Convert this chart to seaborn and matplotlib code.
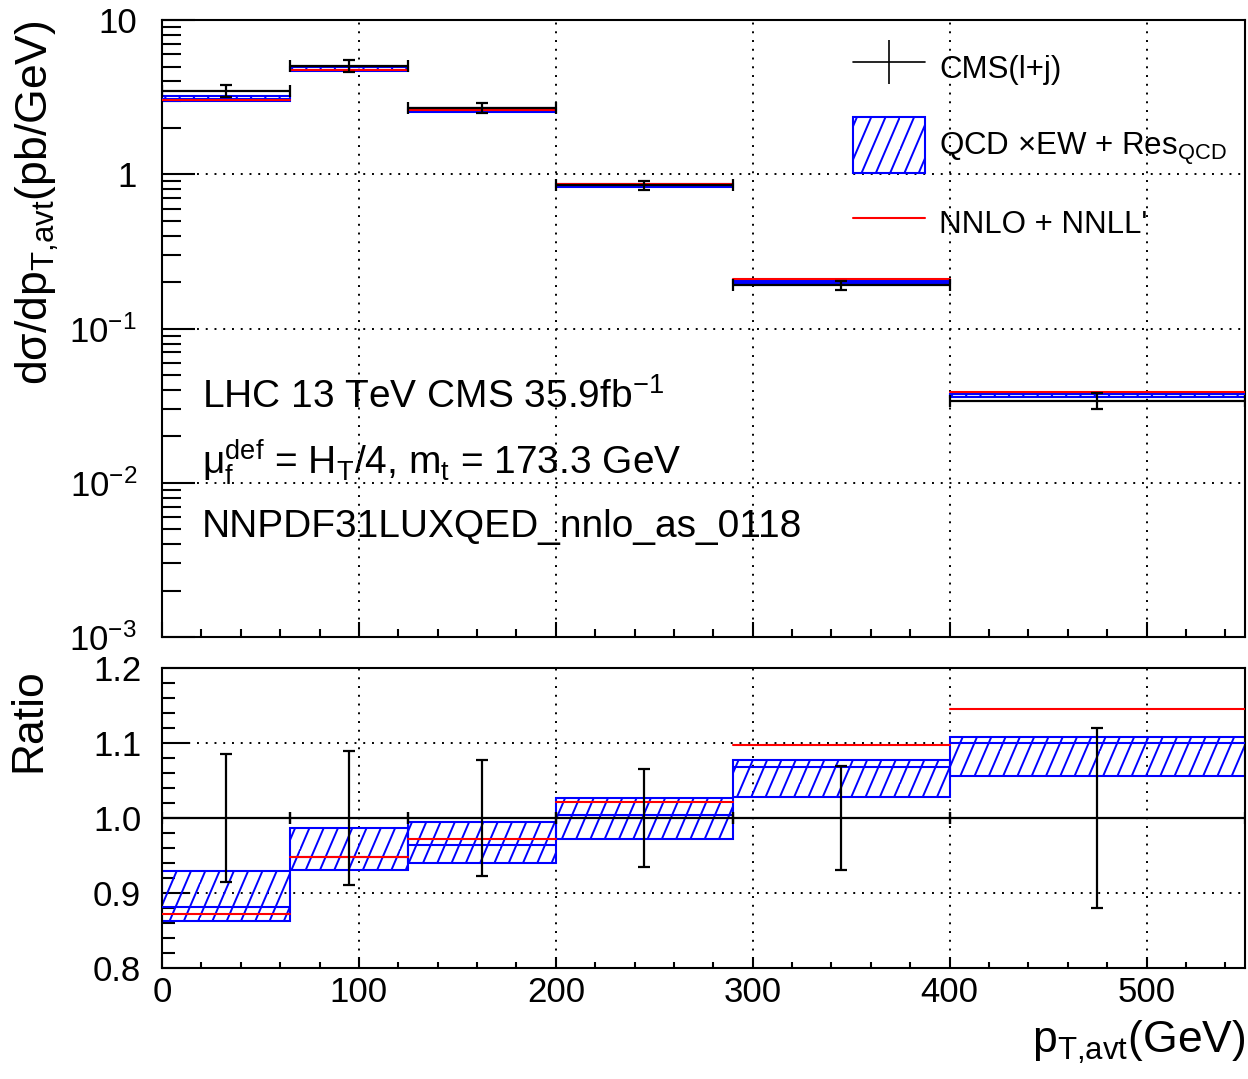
import numpy as np
import pandas as pd
import matplotlib
matplotlib.use('Agg')
import matplotlib.pyplot as plt
import matplotlib.hatch as mhatch
from matplotlib.path import Path
import seaborn as sns
from matplotlib.lines import Line2D
from matplotlib.patches import Patch, Rectangle
from matplotlib.legend_handler import HandlerPatch
from matplotlib.ticker import MultipleLocator, LogLocator, NullFormatter, FixedLocator

# ---------------- data ----------------
bin_edges = [0, 65, 125, 200, 290, 400, 550]
cms_values = [3.48, 5.03, 2.70, 0.849, 0.1916, 0.0341]
cms_errors = [0.296, 0.448, 0.208, 0.056, 0.0132, 0.0041]
qcdew_central = [3.069, 4.770, 2.603, 0.8528, 0.2046, 0.03749]
qcdew_up = [3.233, 4.963, 2.687, 0.8718, 0.2065, 0.03777]
qcdew_down = [3.002, 4.678, 2.538, 0.8252, 0.1970, 0.03601]
nnlo_nnll = [3.035, 4.768, 2.624, 0.8668, 0.2102, 0.03904]

legend_labels = ["CMS(l+j)", r"QCD $\mathregular{\times}$EW + Res$_{\mathregular{QCD}}$", "NNLO + NNLL'"]
top_yticks = [1e-3, 1e-2, 1e-1, 1, 10]
top_yticklabels = [r"$\mathregular{10^{-3}}$", r"$\mathregular{10^{-2}}$", r"$\mathregular{10^{-1}}$", "1", "10"]
ratio_yticks = [0.8, 0.9, 1.0, 1.1, 1.2]
ratio_yticklabels = ["0.8", "0.9", "1.0", "1.1", "1.2"]
x_ticks = [0, 100, 200, 300, 400, 500]
x_ticklabels = ["0", "100", "200", "300", "400", "500"]
info_lines = ["LHC 13 TeV CMS 35.9fb$^{\\mathregular{-1}}$",
              "μ$_{\\mathregular{f}}^{\\mathregular{def}}$ = H$_{\\mathregular{T}}$/4, m$_{\\mathregular{t}}$ = 173.3 GeV",
              "NNPDF31LUXQED_nnlo_as_0118"]


# ---------------- steeper ROOT-like hatch ----------------
try:
    class SteepHatch(mhatch.HatchPatternBase):
        def __init__(self, hatch, density):
            n = hatch.count('/') * 7
            verts = []
            shift = 3.0 / 7.0
            for k in range(n):
                c = (k + 0.5) / n
                x_end = c + shift
                if x_end <= 1.0:
                    verts += [(c, 0.0), (x_end, 1.0)]
                else:
                    yb = (1.0 - c) / shift
                    verts += [(c, 0.0), (1.0, yb), (0.0, yb), (x_end - 1.0, 1.0)]
            self._verts = np.array(verts, dtype=float) if verts else np.empty((0, 2))
            self.num_vertices = len(verts)

        def set_vertices_and_codes(self, vertices, codes):
            vertices[:] = self._verts
            codes[0::2] = Path.MOVETO
            codes[1::2] = Path.LINETO

    mhatch._hatch_types = [SteepHatch if t is mhatch.NorthEastHatch else t
                           for t in mhatch._hatch_types]
except Exception:
    pass

# ---------------- style ----------------
sns.set_theme(style="white")
plt.rcParams['font.family'] = ['Liberation Sans', 'DejaVu Sans']
plt.rcParams['mathtext.fontset'] = 'custom'
plt.rcParams['mathtext.rm'] = 'Liberation Sans'
plt.rcParams['mathtext.it'] = 'Liberation Sans'
plt.rcParams['mathtext.bf'] = 'Liberation Sans:bold'
plt.rcParams['mathtext.sf'] = 'Liberation Sans'
plt.rcParams['hatch.linewidth'] = 1.4
plt.rcParams['axes.linewidth'] = 1.5
for k in ['text.color', 'axes.labelcolor', 'xtick.color', 'ytick.color', 'axes.edgecolor']:
    plt.rcParams[k] = 'black'

edges = np.array(bin_edges, dtype=float)
left = edges[:-1]
widths = np.diff(edges)
centers = left + widths / 2
cms = np.array(cms_values)
cerr = np.array(cms_errors)
cen = np.array(qcdew_central)
up = np.array(qcdew_up)
dn = np.array(qcdew_down)
red = np.array(nnlo_nnll)


def seg_frame(vals):
    rows = []
    for i, v in enumerate(vals):
        rows.append((edges[i], v, i))
        rows.append((edges[i + 1], v, i))
    return pd.DataFrame(rows, columns=["x", "y", "seg"])


def tall_box(legend, orig_handle, xdescent, ydescent, width, height, fontsize):
    extra = 0.15 * height
    return Rectangle((-xdescent, -ydescent - extra), width, height + 2 * extra)


fig = plt.figure(figsize=(12.48, 10.79), dpi=100)
ax1 = fig.add_axes([0.1298, 0.4096, 0.8678, 0.5718])
ax2 = fig.add_axes([0.1298, 0.1029, 0.8678, 0.2780])

grid_kw = dict(color='black', linestyle=(0, (1, 3.5)), linewidth=1.4)

# ---------------- top panel ----------------
ax1.set_yscale('log')
ax1.bar(left, up - dn, bottom=dn, width=widths, align='edge', facecolor='none',
        edgecolor='blue', hatch='/', linewidth=1.5, zorder=2)
sns.lineplot(data=seg_frame(cen), x="x", y="y", units="seg", estimator=None,
             color='blue', lw=1.5, ax=ax1, legend=False, zorder=3)
sns.lineplot(data=seg_frame(red), x="x", y="y", units="seg", estimator=None,
             color='red', lw=1.5, ax=ax1, legend=False, zorder=4)
ax1.errorbar(centers, cms, xerr=widths / 2, yerr=cerr, fmt='none', ecolor='black',
             elinewidth=1.6, capsize=4, capthick=1.6, zorder=5)
ax1.set_xlim(0, 550)
ax1.set_ylim(1e-3, 10)
ax1.yaxis.set_major_locator(FixedLocator(top_yticks))
ax1.set_yticklabels(top_yticklabels)
ax1.yaxis.set_minor_locator(LogLocator(base=10, subs=np.arange(2, 10)))
ax1.yaxis.set_minor_formatter(NullFormatter())
ax1.set_xticks(x_ticks)
ax1.set_xticklabels([])
ax1.xaxis.set_minor_locator(MultipleLocator(20))
ax1.grid(True, which='major', **grid_kw)
ax1.set_axisbelow(True)
ax1.tick_params(axis='y', which='major', direction='in', length=24, width=1.5, labelsize=25, pad=18,
                left=True, right=False)
ax1.tick_params(axis='y', which='minor', direction='in', length=14, width=1.5, left=True, right=False)
ax1.tick_params(axis='x', which='major', direction='in', length=11, width=1.5, bottom=True, top=False)
ax1.tick_params(axis='x', which='minor', direction='in', length=5.5, width=1.5, bottom=True, top=False)
ax1.set_xlabel("")
ax1.set_ylabel("dσ/dp$_{\\mathregular{T{,}avt}}$(pb/GeV)", fontsize=32, loc='top')
ax1.yaxis.set_label_coords(-0.093, 1.0)
for s in ax1.spines.values():
    s.set_color('black')
    s.set_linewidth(1.5)

for i, txt in enumerate(info_lines):
    ax1.text(0.037, [0.389, 0.284, 0.178][i], txt, transform=ax1.transAxes, fontsize=28,
             ha='left', va='center', color='black')

handles = [Line2D([0], [0], color='black', lw=1.2, marker='|', markersize=32, markeredgewidth=1.2),
           Patch(facecolor='none', edgecolor='blue', hatch='/', linewidth=1.5),
           Line2D([0], [0], color='red', lw=1.5)]
ax1.legend(handles, legend_labels, loc='upper left', bbox_to_anchor=(0.638, 0.957), frameon=False,
           fontsize=22.5, handlelength=2.3, handleheight=1.73, handletextpad=0.45,
           labelspacing=1.1, borderpad=0, borderaxespad=0,
           handler_map={Patch: HandlerPatch(patch_func=tall_box)})

# ---------------- ratio panel ----------------
ones = cms / cms
ax2.bar(left, up / cms - dn / cms, bottom=dn / cms, width=widths, align='edge', facecolor='none',
        edgecolor='blue', hatch='/', linewidth=1.5, zorder=2)
sns.lineplot(data=seg_frame(cen / cms), x="x", y="y", units="seg", estimator=None,
             color='blue', lw=1.5, ax=ax2, legend=False, zorder=3)
sns.lineplot(data=seg_frame(red / cms), x="x", y="y", units="seg", estimator=None,
             color='red', lw=1.5, ax=ax2, legend=False, zorder=4)
ax2.errorbar(centers, ones, xerr=widths / 2, yerr=cerr / cms, fmt='none', ecolor='black',
             elinewidth=1.6, capsize=4, capthick=1.6, zorder=5)
ax2.set_xlim(0, 550)
ax2.set_ylim(0.8, 1.2)
ax2.set_yticks(ratio_yticks)
ax2.set_yticklabels(ratio_yticklabels)
ax2.yaxis.set_minor_locator(MultipleLocator(0.02))
ax2.set_xticks(x_ticks)
ax2.set_xticklabels(x_ticklabels)
ax2.xaxis.set_minor_locator(MultipleLocator(20))
ax2.grid(True, which='major', **grid_kw)
ax2.set_axisbelow(True)
ax2.tick_params(axis='y', which='major', direction='in', length=20, width=1.5, labelsize=25, pad=15,
                left=True, right=False)
ax2.tick_params(axis='y', which='minor', direction='in', length=9.5, width=1.5, left=True, right=False)
ax2.tick_params(axis='x', which='major', direction='in', length=8, width=1.5, labelsize=25, pad=6,
                bottom=True, top=False)
ax2.tick_params(axis='x', which='minor', direction='in', length=4, width=1.5, bottom=True, top=False)
ax2.set_ylabel("Ratio", fontsize=32, loc='top')
ax2.yaxis.set_label_coords(-0.104, 1.0)
ax2.set_xlabel("p$_{\\mathregular{T{,}avt}}$(GeV)", fontsize=32, loc='right')
ax2.xaxis.set_label_coords(1.0, -0.17)
for s in ax2.spines.values():
    s.set_color('black')
    s.set_linewidth(1.5)

fig.savefig("out.png", dpi=100)
